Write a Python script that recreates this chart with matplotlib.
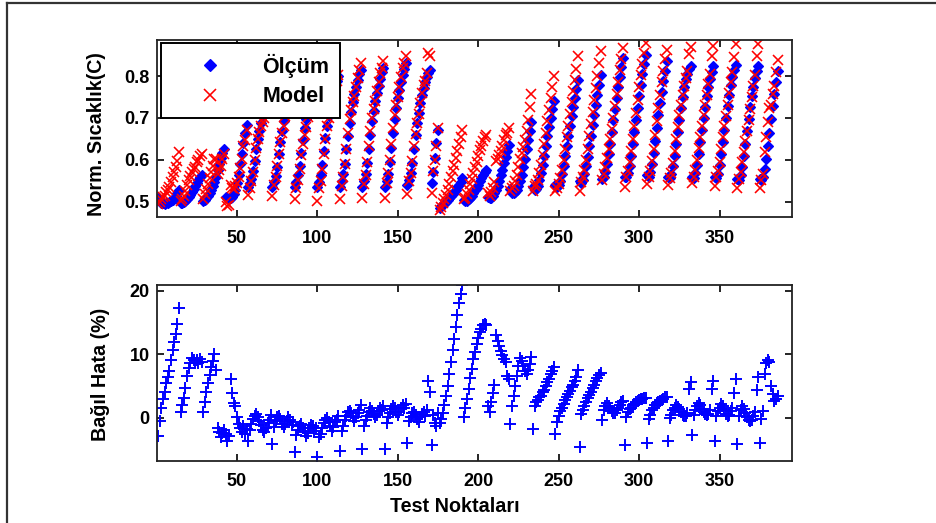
import numpy as np
import matplotlib
matplotlib.use("Agg")
import matplotlib.pyplot as plt
from matplotlib.lines import Line2D

plt.rcParams['font.family'] = ['Liberation Sans', 'DejaVu Sans']
plt.rcParams['font.weight'] = 'bold'

# Normalised temperature: measurement (one row per heating run)
olcum = [
    0.508, 0.502, 0.498, 0.496, 0.495, 0.496, 0.497, 0.499, 0.502, 0.505, 0.509, 0.514, 0.520, 0.528,
    0.498, 0.497, 0.499, 0.502, 0.506, 0.511, 0.517, 0.523, 0.530, 0.537, 0.544, 0.551, 0.558, 0.565,
    0.502, 0.505, 0.509, 0.514, 0.521, 0.529, 0.538, 0.548, 0.560, 0.575, 0.590, 0.604, 0.616, 0.625,
    0.512, 0.508, 0.506, 0.508, 0.512, 0.518, 0.528, 0.545, 0.565, 0.590, 0.615, 0.640, 0.664, 0.684,
    0.535, 0.544, 0.555, 0.573, 0.598, 0.625, 0.650, 0.670, 0.688, 0.704, 0.717, 0.731, 0.742, 0.751, 0.760,
    0.535, 0.547, 0.562, 0.584, 0.613, 0.643, 0.670, 0.692, 0.711, 0.729, 0.743, 0.758, 0.770, 0.780,
    0.535, 0.548, 0.563, 0.586, 0.617, 0.647, 0.675, 0.698, 0.719, 0.736, 0.752, 0.767, 0.780, 0.790,
    0.535, 0.548, 0.564, 0.588, 0.620, 0.652, 0.681, 0.705, 0.726, 0.744, 0.760, 0.776, 0.789, 0.800,
    0.535, 0.549, 0.566, 0.591, 0.625, 0.658, 0.689, 0.714, 0.737, 0.756, 0.773, 0.790, 0.804, 0.815,
    0.535, 0.549, 0.566, 0.592, 0.626, 0.660, 0.692, 0.717, 0.740, 0.760, 0.777, 0.794, 0.809, 0.820,
    0.535, 0.550, 0.567, 0.594, 0.629, 0.664, 0.697, 0.723, 0.747, 0.767, 0.785, 0.803, 0.818, 0.830,
    0.540, 0.552, 0.568, 0.593, 0.626, 0.659, 0.689, 0.713, 0.735, 0.754, 0.771, 0.786, 0.798, 0.808, 0.815,
    0.545, 0.570, 0.605, 0.640, 0.672,
    0.485, 0.489, 0.493, 0.497, 0.500, 0.504, 0.508, 0.513, 0.518, 0.523, 0.529, 0.535, 0.541, 0.548, 0.556,
    0.505, 0.502, 0.503, 0.506, 0.510, 0.515, 0.521, 0.527, 0.534, 0.541, 0.549, 0.556, 0.563, 0.570, 0.576,
    0.512, 0.508, 0.510, 0.514, 0.520, 0.528, 0.538, 0.550, 0.563, 0.577, 0.592, 0.607, 0.622, 0.636,
    0.530, 0.522, 0.520, 0.523, 0.529, 0.538, 0.550, 0.565, 0.583, 0.603, 0.625, 0.647, 0.669, 0.690,
    0.535, 0.528, 0.530, 0.538, 0.551, 0.568, 0.588, 0.610, 0.633, 0.656, 0.678, 0.700, 0.721, 0.740,
    0.540, 0.535, 0.540, 0.550, 0.566, 0.586, 0.609, 0.633, 0.657, 0.681, 0.704, 0.726, 0.747, 0.768, 0.790,
    0.550, 0.545, 0.552, 0.566, 0.585, 0.608, 0.633, 0.658, 0.683, 0.707, 0.730, 0.754, 0.778, 0.803,
    0.555, 0.560, 0.572, 0.590, 0.613, 0.639, 0.667, 0.695, 0.722, 0.748, 0.773, 0.798, 0.821, 0.843,
    0.560, 0.558, 0.568, 0.586, 0.610, 0.637, 0.666, 0.695, 0.724, 0.752, 0.779, 0.805, 0.829, 0.851,
    0.565, 0.560, 0.571, 0.591, 0.617, 0.646, 0.676, 0.706, 0.735, 0.763, 0.789, 0.813, 0.835,
    0.560, 0.556, 0.566, 0.585, 0.610, 0.638, 0.667, 0.696, 0.724, 0.750, 0.774, 0.792, 0.806, 0.816, 0.823,
    0.560, 0.557, 0.568, 0.588, 0.614, 0.642, 0.671, 0.700, 0.727, 0.752, 0.775, 0.794, 0.810, 0.823,
    0.558, 0.556, 0.567, 0.587, 0.613, 0.642, 0.672, 0.701, 0.729, 0.755, 0.778, 0.798, 0.814, 0.826,
    0.555, 0.553, 0.564, 0.584, 0.610, 0.639, 0.669, 0.698, 0.726, 0.752, 0.775, 0.795, 0.811, 0.823,
    0.555, 0.552, 0.560, 0.578, 0.603, 0.633, 0.665, 0.697, 0.728, 0.757, 0.785, 0.811,
]

# Normalised temperature: thermal model prediction (same runs)
model = [
    0.494, 0.500, 0.506, 0.511, 0.515, 0.523, 0.529, 0.536, 0.548, 0.559, 0.570, 0.582, 0.597, 0.619,
    0.503, 0.507, 0.515, 0.526, 0.539, 0.551, 0.562, 0.572, 0.578, 0.583, 0.594, 0.599, 0.610, 0.615,
    0.507, 0.518, 0.530, 0.542, 0.556, 0.571, 0.586, 0.603, 0.602, 0.566, 0.577, 0.586, 0.601, 0.613,
    0.499, 0.490, 0.492, 0.539, 0.532, 0.530, 0.538, 0.546, 0.560, 0.581, 0.601, 0.632, 0.647, 0.672,
    0.516, 0.534, 0.550, 0.572, 0.600, 0.629, 0.651, 0.667, 0.680, 0.691, 0.701, 0.719, 0.736, 0.749, 0.764,
    0.513, 0.539, 0.559, 0.585, 0.615, 0.642, 0.664, 0.682, 0.704, 0.726, 0.744, 0.756, 0.762, 0.775,
    0.506, 0.533, 0.552, 0.579, 0.611, 0.637, 0.660, 0.678, 0.702, 0.724, 0.744, 0.757, 0.764, 0.778,
    0.502, 0.532, 0.550, 0.579, 0.615, 0.650, 0.681, 0.701, 0.717, 0.729, 0.749, 0.771, 0.787, 0.802,
    0.507, 0.538, 0.559, 0.589, 0.627, 0.664, 0.697, 0.720, 0.738, 0.753, 0.774, 0.796, 0.814, 0.831,
    0.509, 0.542, 0.564, 0.594, 0.632, 0.670, 0.700, 0.721, 0.741, 0.764, 0.786, 0.807, 0.819, 0.835,
    0.509, 0.546, 0.568, 0.599, 0.638, 0.677, 0.708, 0.730, 0.750, 0.774, 0.797, 0.820, 0.831, 0.848,
    0.519, 0.549, 0.569, 0.598, 0.632, 0.662, 0.688, 0.709, 0.736, 0.759, 0.778, 0.789, 0.808, 0.855, 0.848,
    0.522, 0.573, 0.600, 0.632, 0.677,
    0.481, 0.488, 0.497, 0.507, 0.517, 0.529, 0.543, 0.558, 0.573, 0.588, 0.605, 0.622, 0.639, 0.655, 0.672,
    0.506, 0.510, 0.518, 0.529, 0.542, 0.555, 0.569, 0.582, 0.596, 0.609, 0.623, 0.634, 0.645, 0.654, 0.660,
    0.522, 0.513, 0.523, 0.534, 0.547, 0.597, 0.603, 0.612, 0.622, 0.634, 0.647, 0.660, 0.663, 0.675,
    0.525, 0.532, 0.538, 0.549, 0.564, 0.582, 0.602, 0.616, 0.631, 0.648, 0.668, 0.696, 0.726, 0.756,
    0.526, 0.538, 0.543, 0.553, 0.569, 0.588, 0.612, 0.637, 0.665, 0.693, 0.720, 0.748, 0.774, 0.799,
    0.526, 0.532, 0.542, 0.556, 0.575, 0.599, 0.626, 0.654, 0.682, 0.710, 0.738, 0.764, 0.790, 0.817, 0.849,
    0.525, 0.548, 0.559, 0.577, 0.600, 0.627, 0.656, 0.685, 0.715, 0.744, 0.772, 0.801, 0.830, 0.860,
    0.553, 0.567, 0.583, 0.604, 0.625, 0.649, 0.674, 0.700, 0.728, 0.757, 0.785, 0.814, 0.841, 0.866,
    0.536, 0.559, 0.573, 0.594, 0.620, 0.650, 0.681, 0.712, 0.743, 0.773, 0.802, 0.829, 0.855, 0.878,
    0.543, 0.559, 0.574, 0.598, 0.627, 0.659, 0.692, 0.724, 0.755, 0.785, 0.813, 0.840, 0.863,
    0.540, 0.556, 0.569, 0.592, 0.620, 0.651, 0.679, 0.706, 0.731, 0.754, 0.776, 0.795, 0.812, 0.853, 0.869,
    0.545, 0.560, 0.575, 0.599, 0.628, 0.655, 0.681, 0.707, 0.731, 0.755, 0.780, 0.804, 0.847, 0.871,
    0.538, 0.558, 0.573, 0.596, 0.626, 0.654, 0.680, 0.705, 0.731, 0.759, 0.786, 0.810, 0.846, 0.877,
    0.532, 0.555, 0.571, 0.595, 0.619, 0.644, 0.670, 0.696, 0.722, 0.750, 0.777, 0.802, 0.847, 0.876,
    0.533, 0.551, 0.566, 0.618, 0.655, 0.691, 0.724, 0.732, 0.756, 0.777, 0.809, 0.839,
]

x_ticks = [50, 100, 150, 200, 250, 300, 350]
temp_ticks = [0.5, 0.6, 0.7, 0.8]
err_ticks = [0, 10, 20]

olcum_arr = np.array(olcum)
model_arr = np.array(model)
nokta = np.arange(1, len(olcum_arr) + 1)
bagil_hata = (model_arr - olcum_arr) / olcum_arr * 100.0

W, H = 936, 523
fig = plt.figure(figsize=(W / 100, H / 100), dpi=100)


def px_rect(left, top, right, bottom):
    return [left / W, 1 - bottom / H, (right - left) / W, (bottom - top) / H]


ax1 = fig.add_axes(px_rect(156.5, 40, 792, 217.3))
ax2 = fig.add_axes(px_rect(156.5, 285, 792, 461))

ax1.plot(nokta, olcum_arr, linestyle='none', marker='D', color='#0000ff',
         markersize=5.2, markeredgewidth=0.9, label='Ölçüm')
ax1.plot(nokta, model_arr, linestyle='none', marker='x', color='#ff0000',
         markersize=7, markeredgewidth=1.15, label='Model')
ax1.set_xlim(0, 395)
ax1.set_ylim(0.463, 0.886)
ax1.set_xticks(x_ticks)
ax1.set_yticks(temp_ticks)
ax1.set_yticklabels(['0.5', '0.6', '0.7', '0.8'])

leg = ax1.legend(loc='upper left', bbox_to_anchor=(0.007, 0.983), borderaxespad=0,
                 fontsize=15.5, frameon=True, fancybox=False, framealpha=1,
                 edgecolor='black', handlelength=3.6, handletextpad=0.6,
                 labelspacing=0.4, borderpad=0.5, markerscale=1.15)
leg.get_frame().set_linewidth(1.4)

ax2.plot(nokta, bagil_hata, linestyle='none', marker='+', color='#0000ff',
         markersize=8, markeredgewidth=1.4)
ax2.set_xlim(0, 395)
ax2.set_ylim(-6.76, 20.9)
ax2.set_xticks(x_ticks)
ax2.set_yticks(err_ticks)

for ax in (ax1, ax2):
    ax.tick_params(direction='in', length=5, width=1.2, top=True, right=True,
                   labelsize=13, colors='black')
    ax.tick_params(axis='x', pad=9)
    ax.tick_params(axis='y', pad=5)
    for sp in ax.spines.values():
        sp.set_linewidth(1.3)
        sp.set_color('#222222')

fig.text(97 / W, 1 - 134 / H, 'Norm. Sıcaklık(C)', rotation=90, ha='center',
         va='center', fontsize=14.2, fontweight='bold')
fig.text(101 / W, 1 - 374 / H, 'Bağıl Hata (%)', rotation=90, ha='center',
         va='center', fontsize=14.2, fontweight='bold')
fig.text(455 / W, 1 - 506 / H, 'Test Noktaları', ha='center', va='center',
         fontsize=14.2, fontweight='bold')

# outer frame lines (left and top)
fig.add_artist(Line2D([7.5 / W, 7.5 / W], [0, 1 - 3 / H], transform=fig.transFigure,
                      color='#333333', linewidth=1.6))
fig.add_artist(Line2D([7.5 / W, 1], [1 - 3 / H, 1 - 3 / H], transform=fig.transFigure,
                      color='#333333', linewidth=1.6))

fig.savefig('out.png', dpi=100)
